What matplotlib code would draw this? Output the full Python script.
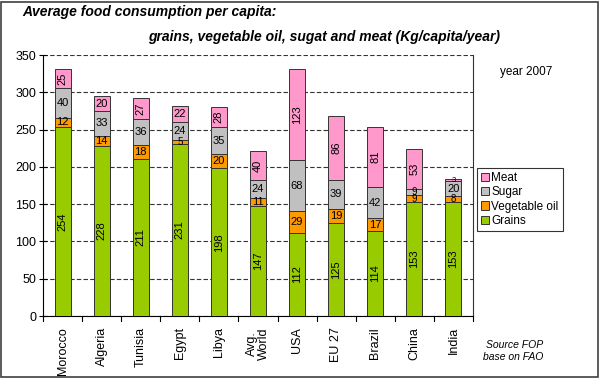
import matplotlib
matplotlib.use("Agg")
import matplotlib.pyplot as plt
from matplotlib.patches import Rectangle
import numpy as np

plt.rcParams['font.family'] = ['Liberation Sans', 'DejaVu Sans']

categories = ["Morocco", "Algeria", "Tunisia", "Egypt", "Libya", "Avg.\nWorld",
              "USA", "EU 27", "Brazil", "China", "India"]
grains = [254, 228, 211, 231, 198, 147, 112, 125, 114, 153, 153]
veg_oil = [12, 14, 18, 5, 20, 11, 29, 19, 17, 9, 8]
sugar = [40, 33, 36, 24, 35, 24, 68, 39, 42, 9, 20]
meat = [25, 20, 27, 22, 28, 40, 123, 86, 81, 53, 3]
series_names = ["Grains", "Vegetable oil", "Sugar", "Meat"]
yticks = [0, 50, 100, 150, 200, 250, 300, 350]

colors = ["#99CC00", "#FF9900", "#C0C0C0", "#FF99CC"]
meat_rot = [90, 0, 90, 0, 90, 90, 90, 90, 90, 90, 0]

fig = plt.figure(figsize=(6, 3.78), dpi=100)
fig.patches.append(Rectangle((0.002, 0.003), 0.995, 0.993, transform=fig.transFigure,
                             fill=False, edgecolor="#404040", linewidth=1.2))
ax = fig.add_axes([0.0717, 0.164, 0.7166, 0.690])

x = np.arange(len(categories))
w = 0.41
data = [grains, veg_oil, sugar, meat]
bottom = np.zeros(len(categories))
for si, (vals, col, name) in enumerate(zip(data, colors, series_names)):
    vals = np.array(vals, dtype=float)
    ax.bar(x, vals, w, bottom=bottom, color=col, edgecolor="#333333",
           linewidth=0.7, label=name, zorder=3)
    for i, v in enumerate(vals):
        if si == 0:
            rot = 90
        elif si == 3:
            rot = meat_rot[i]
        else:
            rot = 0
        fs = 8 if v >= 10 else (7 if v >= 5 else 5.5)
        ax.text(x[i], bottom[i] + v / 2, f"{int(v)}", ha="center", va="center",
                rotation=rot, fontsize=fs, color="black", zorder=4)
    bottom += vals

ax.set_xlim(-0.5, len(categories) - 0.5)
ax.set_ylim(0, 350)
ax.set_yticks(yticks)
ax.tick_params(axis="y", labelsize=9, direction="inout", length=6, width=0.8, pad=2)
ax.yaxis.grid(True, linestyle=(0, (4, 2)), color="#333333", linewidth=0.8, zorder=0)
ax.set_xticks(x)
ax.set_xticklabels(categories, rotation=90, fontsize=9, linespacing=0.95)
ax.tick_params(axis="x", length=0, pad=8)
for b in np.arange(-0.5, len(categories), 1.0):
    ax.plot([b, b], [0, -0.018], transform=ax.get_xaxis_transform(), color="black",
            linewidth=0.8, clip_on=False)
ax.spines["top"].set_visible(False)
ax.spines["right"].set_color("#333333")
ax.spines["left"].set_color("black")
ax.spines["bottom"].set_color("black")

handles, labels = ax.get_legend_handles_labels()
leg = fig.legend(handles[::-1], labels[::-1], loc="upper left",
                 bbox_to_anchor=(0.795, 0.556), fontsize=8.5, frameon=True,
                 fancybox=False, edgecolor="black", handlelength=0.7,
                 handleheight=0.7, handletextpad=0.15, borderpad=0.35,
                 labelspacing=0.2, borderaxespad=0)
leg.get_frame().set_linewidth(0.8)

fig.text(0.037, 0.968, "Average food consumption per capita:", fontsize=10,
         fontweight="bold", style="italic", ha="left", va="center")
fig.text(0.247, 0.903, "grains, vegetable oil, sugat and meat (Kg/capita/year)",
         fontsize=10, fontweight="bold", style="italic", ha="left", va="center")
fig.text(0.834, 0.81, "year 2007", fontsize=8.5, ha="left", va="center")
fig.text(0.905, 0.072, "Source FOP\nbase on FAO", fontsize=7.5, style="italic",
         ha="right", va="center", linespacing=1.2)

fig.savefig("out.png", dpi=100)
